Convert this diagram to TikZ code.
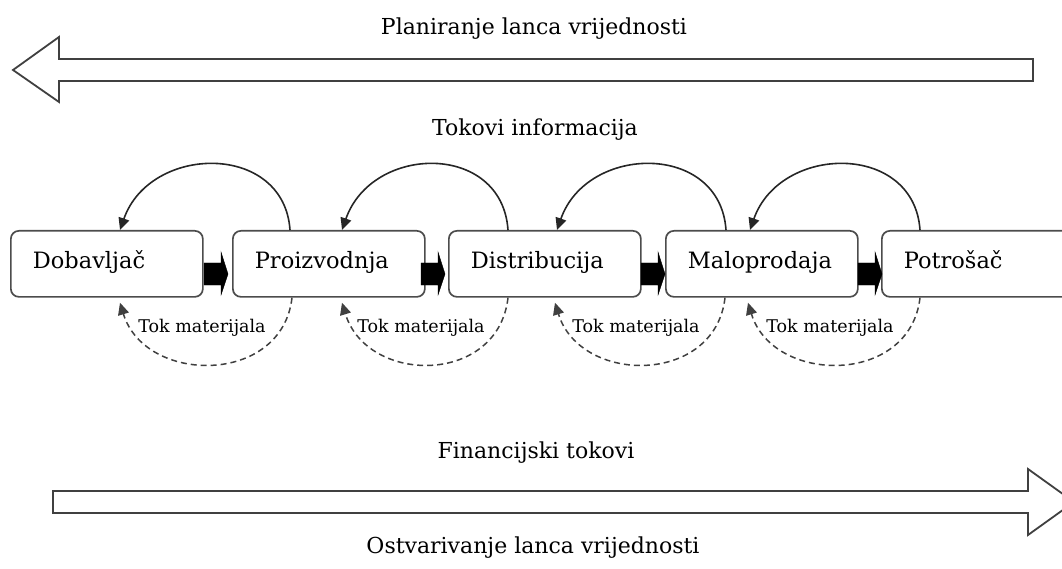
\documentclass[tikz,border=0pt]{standalone}
\usepackage{fontspec}
\setmainfont{DejaVu Serif}
\usetikzlibrary{arrows.meta,calc}
\tikzset{
  big/.style={draw=black!75, line width=1.8pt, fill=white, line join=miter},
  stage/.style={draw=black!70, line width=1.7pt, rounded corners=8pt, fill=white,
    minimum width=192pt, minimum height=66pt, anchor=north west, align=left,
    text width=148pt, inner xsep=22pt, text height=16pt, text depth=6pt,
    font=\fontsize{22.5}{26}\selectfont},
  flow/.style={fill=black, draw=black},
  info/.style={draw=black!85, line width=1.6pt, -{Triangle[length=12pt,width=11pt]}},
  mat/.style={draw=black!75, line width=1.5pt, dash pattern=on 6pt off 4pt, -{Triangle[length=12pt,width=11pt]}},
  title/.style={anchor=base, font=\fontsize{22}{26}\selectfont},
  lbl/.style={anchor=base, font=\fontsize{17.5}{20}\selectfont, inner sep=0pt}
}
\begin{document}
\begin{tikzpicture}[x=1pt,y=-1pt]
\useasboundingbox (0,0) rectangle (1062,569);
\clip (0,0) rectangle (1062,569);

% top hollow arrow
\draw[big] (1033,59) -- (59,59) -- (59,37) -- (13,70) -- (59,102) -- (59,81) -- (1033,81) -- cycle;
\node[title] (plan) at (534,35) {Planiranje lanca vrijednosti};
\node[title] (info) at (535,136) {Tokovi informacija};

% bottom hollow arrow
\draw[big] (53,491) -- (1028,491) -- (1028,469) -- (1074,502) -- (1028,535) -- (1028,513) -- (53,513) -- cycle;
\node[title] (fin) at (536,458) {Financijski tokovi};
\node[title] (ostv) at (533,553) {Ostvarivanje lanca vrijednosti};

% stages
\node[stage] (dob) at (10,230) {Dobavljač};
\node[stage] (pro) at (232,230) {Proizvodnja};
\node[stage] (dis) at (448,230) {Distribucija};
\node[stage] (mal) at (665,230) {Maloprodaja};
\node[stage] (pot) at (881,230) {Potrošač};

% black flow arrows
\foreach \a in {204,421,641,858}{
  \fill[flow] (\a,263) -- (\a+17,263) -- (\a+17,252) -- (\a+24,274) -- (\a+17,295) -- (\a+17,285) -- (\a,285) -- cycle;
}

% arc end points
\coordinate (i1s) at ($(pro.north west)+(58,0)$);
\coordinate (i1e) at ($(dob.north west)+(110,0)$);
\coordinate (i2s) at ($(dis.north west)+(60,0)$);
\coordinate (i2e) at ($(pro.north west)+(110,0)$);
\coordinate (i3s) at ($(mal.north west)+(61,0)$);
\coordinate (i3e) at ($(dis.north west)+(109,0)$);
\coordinate (i4s) at ($(pot.north west)+(39,0)$);
\coordinate (i4e) at ($(mal.north west)+(85,0)$);

\coordinate (m1s) at ($(pro.south west)+(60,0)$);
\coordinate (m1e) at ($(dob.south west)+(110,5)$);
\coordinate (m2s) at ($(dis.south west)+(60,0)$);
\coordinate (m2e) at ($(pro.south west)+(110,5)$);
\coordinate (m3s) at ($(mal.south west)+(60,0)$);
\coordinate (m3e) at ($(dis.south west)+(107,5)$);
\coordinate (m4s) at ($(pot.south west)+(39,0)$);
\coordinate (m4e) at ($(mal.south west)+(83,5)$);

% information and material arcs
\foreach \k in {1,2,3,4}{
  \draw[info] (i\k s) .. controls ($(i\k s)+(-6,-88)$) and ($(i\k e)+(30,-86)$) .. (i\k e);
  \draw[mat] (m\k s) .. controls ($(m\k s)+(-10,88)$) and ($(m\k e)+(25,82)$) .. (m\k e);
}

% material labels
\node[lbl] (t1) at ($(m1s)!0.5!(m1e)+(-4,32)$) {Tok materijala};
\node[lbl] (t2) at ($(m2s)!0.5!(m2e)+(-4,32)$) {Tok materijala};
\node[lbl] (t3) at ($(m3s)!0.5!(m3e)+(-4,32)$) {Tok materijala};
\node[lbl] (t4) at ($(m4s)!0.5!(m4e)+(-4,32)$) {Tok materijala};
\end{tikzpicture}
\end{document}
